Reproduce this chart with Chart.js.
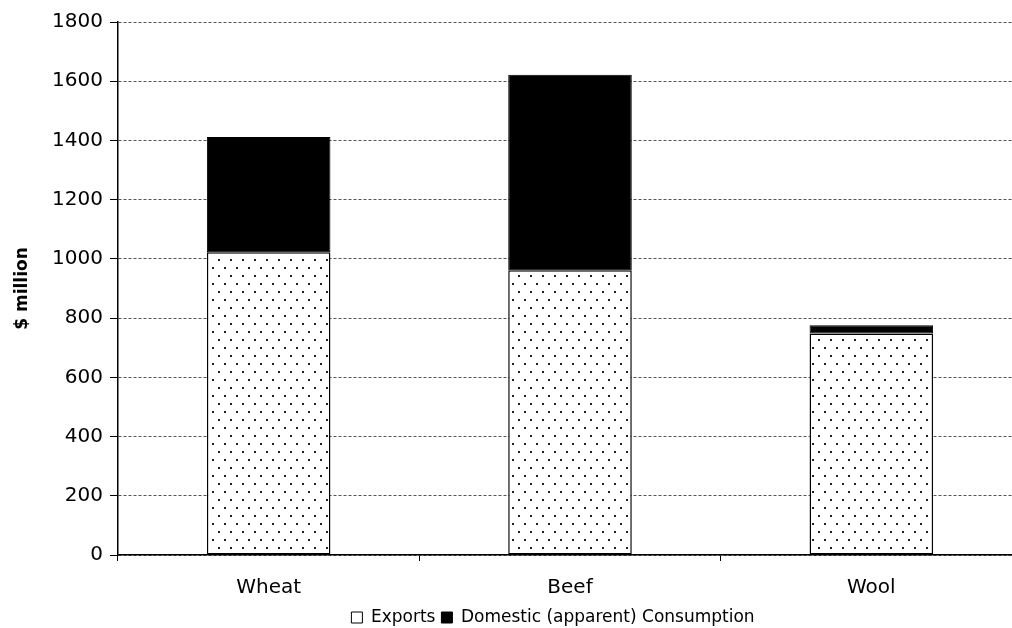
<!DOCTYPE html>
<html>
<head>
<meta charset="utf-8">
<script src="https://cdn.jsdelivr.net/npm/chart.js@4"></script>
<style>
  html, body { margin: 0; padding: 0; background: #fff; overflow: hidden; }
  #wrap { width: 1012px; height: 628px; overflow: hidden; }
</style>
</head>
<body>
<div id="wrap"><canvas id="chart" width="1022" height="628"></canvas></div>
<script>
'use strict';

const categories = ['Wheat', 'Beef', 'Wool'];
const exportsVals = [1022, 962, 748];
const domesticVals = [390, 660, 28];
const seriesNames = ['Exports', 'Domestic (apparent) Consumption'];
const yTicks = [0, 200, 400, 600, 800, 1000, 1200, 1400, 1600, 1800];

const FONT = "'DejaVu Sans', Verdana, sans-serif";

// dotted fill for the exports bars
function dotPattern() {
  const c = document.createElement('canvas');
  c.width = 12;
  c.height = 16;
  const g = c.getContext('2d');
  g.fillStyle = '#fff';
  g.fillRect(0, 0, 12, 16);
  g.fillStyle = '#222';
  g.fillRect(2, 3, 2, 2);
  g.fillRect(8, 11, 2, 2);
  return g.createPattern(c, 'repeat');
}

// the legend in the original sits a bit left of the plot centre and low down
const shiftLegend = {
  id: 'shiftLegend',
  afterLayout(chart) {
    const lg = chart.legend;
    if (!lg) return;
    lg.left = 84;
    lg.top += 8;
    lg.bottom += 8;
  }
};

const ctx = document.getElementById('chart').getContext('2d');
new Chart(ctx, {
  type: 'bar',
  data: {
    labels: categories,
    datasets: [
      {
        label: seriesNames[0],
        data: exportsVals,
        backgroundColor: dotPattern(),
        borderColor: '#000',
        borderWidth: 1.5,
        borderSkipped: false,
        barPercentage: 0.41,
        categoryPercentage: 1
      },
      {
        label: seriesNames[1],
        data: domesticVals,
        backgroundColor: '#000',
        borderColor: '#000',
        borderWidth: 1,
        borderSkipped: false,
        barPercentage: 0.41,
        categoryPercentage: 1
      }
    ]
  },
  options: {
    responsive: false,
    animation: false,
    layout: { padding: { top: 22, right: 0, bottom: 0, left: 0 } },
    scales: {
      x: {
        stacked: true,
        grid: { drawOnChartArea: false, drawTicks: true, tickLength: 6, offset: true, color: '#000' },
        border: { color: '#000', width: 1.5 },
        ticks: { color: '#000', font: { family: FONT, size: 20 }, padding: 15 },
        afterFit: s => { s.height = 40; }
      },
      y: {
        stacked: true,
        min: 0,
        max: 1800,
        afterBuildTicks: s => { s.ticks = yTicks.map(v => ({ value: v })); },
        grid: { color: '#555', tickLength: 8, tickColor: '#000' },
        border: { color: '#000', width: 1.5, dash: [3, 2] },
        ticks: { color: '#000', font: { family: FONT, size: 20 }, padding: 7, callback: v => String(v) },
        title: { display: true, text: '$ million', color: '#000', font: { family: FONT, size: 17, weight: 'bold' }, padding: { top: 12, bottom: 0 } },
        afterFit: s => { s.width = 118; }
      }
    },
    plugins: {
      legend: {
        position: 'bottom',
        labels: {
          color: '#000',
          font: { family: FONT, size: 17 },
          boxWidth: 11,
          boxHeight: 11,
          padding: 6,
          generateLabels: chart => chart.data.datasets.map((d, i) => ({
            text: d.label,
            fillStyle: i === 0 ? '#fff' : '#000',
            strokeStyle: '#000',
            lineWidth: 1,
            datasetIndex: i
          }))
        }
      },
      tooltip: { enabled: false }
    }
  },
  plugins: [shiftLegend]
});
</script>
</body>
</html>
